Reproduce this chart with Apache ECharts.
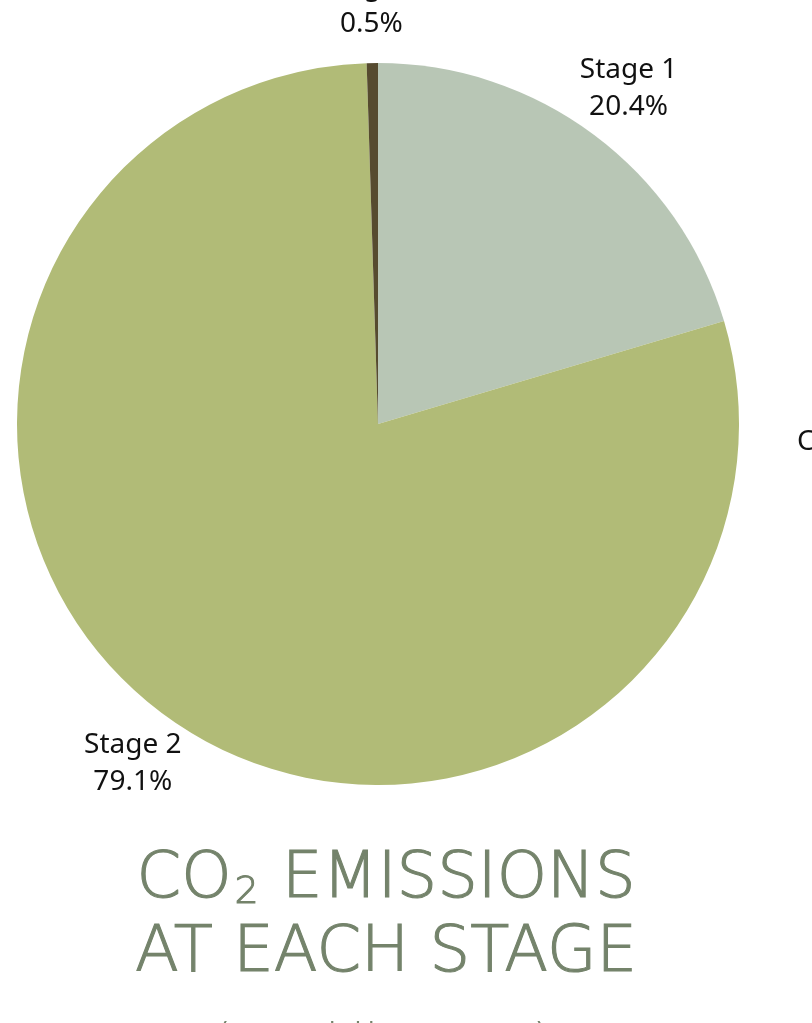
<!DOCTYPE html>
<html>
<head>
<meta charset="utf-8">
<script src="https://cdn.jsdelivr.net/npm/echarts@6/dist/echarts.min.js"></script>
<style>html,body{margin:0;padding:0;background:#fff;}#c{width:812px;height:1023px;}</style>
</head>
<body>
<div id="c"></div>
<script>
const categories = ['Stage 1', 'Stage 2', 'Stage 3'];
const values = [20.4, 79.1, 0.5];
const colors = ['#b8c6b5', '#b1bb77', '#564b2f'];

const cx = 378, cy = 424, R = 361, labelDist = 419;
const total = values.reduce((a, b) => a + b, 0);
let acc = 0;
const labelPos = values.map(v => {
  const mid = (acc + v / 2) / total * 2 * Math.PI;
  acc += v;
  return [cx + labelDist * Math.sin(mid), cy - labelDist * Math.cos(mid)];
});

const chart = echarts.init(document.getElementById('c'), null, {renderer: 'canvas'});
chart.setOption({
  animation: false,
  backgroundColor: '#fff',
  series: [{
    type: 'pie',
    center: [cx, cy],
    radius: [0, R],
    startAngle: 90,
    clockwise: true,
    avoidLabelOverlap: false,
    itemStyle: {borderWidth: 0},
    label: {
      show: true,
      position: 'outside',
      formatter: p => p.name + '\n' + p.value.toFixed(1) + '%',
      fontFamily: 'Noto Sans',
      fontSize: 28,
      lineHeight: 37,
      color: '#111',
      align: 'center'
    },
    labelLine: {show: false},
    labelLayout: params => ({
      x: labelPos[params.dataIndex][0],
      y: labelPos[params.dataIndex][1],
      align: 'center',
      verticalAlign: 'middle'
    }),
    emphasis: {disabled: true},
    data: categories.map((c, i) => ({name: c, value: values[i], itemStyle: {color: colors[i]}}))
  }],
  graphic: [
    {
      type: 'text', x: 386, y: 838,
      style: {
        text: '{a|CO}{s|2}{a| EMISSIONS}\n{a|AT EACH STAGE}',
        align: 'center', verticalAlign: 'top',
        rich: {
          a: {fontFamily: 'DejaVu Sans', fontWeight: 200, fontSize: 64, lineHeight: 74, fill: '#74836b', verticalAlign: 'bottom', stroke: '#74836b', lineWidth: 1.1},
          s: {fontFamily: 'DejaVu Sans', fontWeight: 200, fontSize: 38, lineHeight: 74, fill: '#74836b', verticalAlign: 'bottom', stroke: '#74836b', lineWidth: 1.0, padding: [0, 3, 0, 3]}
        }
      }
    },
    {
      type: 'text', x: 797, y: 428,
      style: {text: 'C', fontFamily: 'Noto Sans', fontSize: 28, fill: '#111'}
    },
    {
      type: 'text', x: 382, y: 1022,
      style: {text: '(Per kilogram)', align: 'center', fontFamily: 'DejaVu Sans', fontWeight: 200, fontSize: 48, fill: '#74836b'}
    }
  ]
});
</script>
</body>
</html>
